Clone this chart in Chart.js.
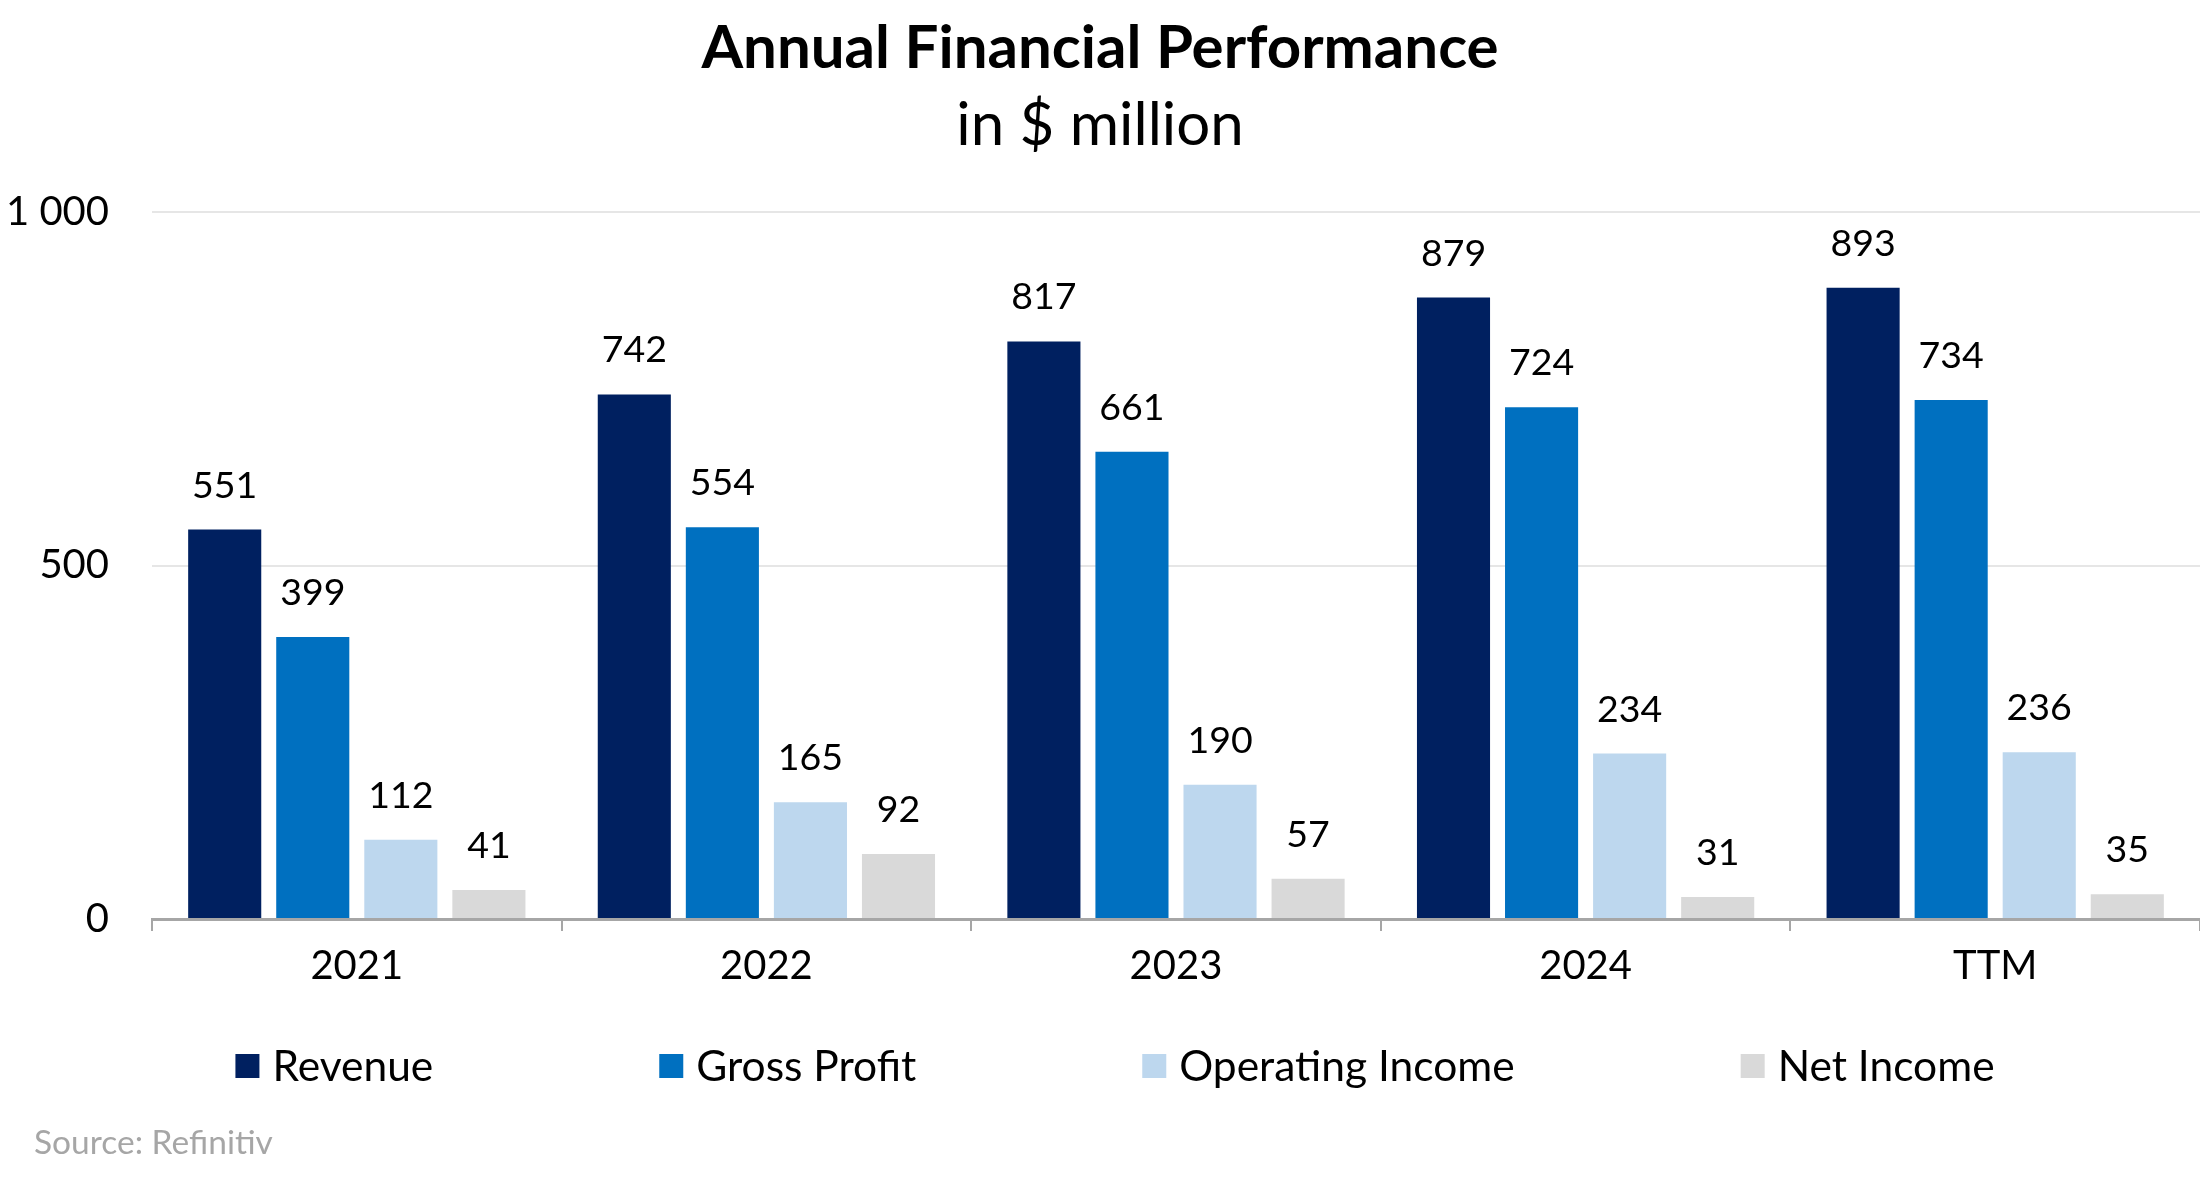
<!DOCTYPE html>
<html><head><meta charset="utf-8">
<script src="https://cdn.jsdelivr.net/npm/chart.js@4.4.1/dist/chart.umd.min.js"></script>
<style>html,body{margin:0;padding:0;background:#fff}#wrap{width:2200px;height:1188px}</style>
</head><body><div id="wrap"><canvas id="c" width="2200" height="1188"></canvas></div>
<script>
const categories = ['2021', '2022', '2023', '2024', 'TTM'];
const seriesNames = ['Revenue', 'Gross Profit', 'Operating Income', 'Net Income'];
const revenue = [551, 742, 817, 879, 893];
const grossProfit = [399, 554, 661, 724, 734];
const operatingIncome = [112, 165, 190, 234, 236];
const netIncome = [41, 92, 57, 31, 35];
const yTickValues = [0, 500, 1000];
const titleText = 'Annual Financial Performance';
const subtitleText = 'in $ million';
const sourceText = 'Source: Refinitiv';

const colors = ['#002060', '#0070C0', '#BDD7EE', '#D9D9D9'];
const FONT = 'Lato, "Open Sans", sans-serif';

function fmt(v) { return String(v).replace(/\B(?=(\d{3})+(?!\d))/g, ' '); }

const valueLabels = {
  id: 'valueLabels',
  afterDatasetsDraw(chart) {
    const ctx = chart.ctx;
    ctx.save();
    ctx.font = '37.5px ' + FONT;
    ctx.fillStyle = '#000';
    ctx.textAlign = 'center';
    ctx.textBaseline = 'middle';
    chart.data.datasets.forEach((ds, i) => {
      chart.getDatasetMeta(i).data.forEach((bar, j) => {
        ctx.fillText(fmt(ds.data[j]), bar.x, bar.y - 44);
      });
    });
    ctx.restore();
  }
};

const customLegend = {
  id: 'customLegend',
  afterDraw(chart) {
    const ctx = chart.ctx;
    ctx.save();
    ctx.font = '42.5px ' + FONT;
    const box = 24, gapText = 13, gapItem = 226, cy = 1066;
    const items = chart.data.datasets.map(ds => ({
      text: ds.label, color: ds.backgroundColor,
      w: box + gapText + ctx.measureText(ds.label).width
    }));
    const total = items.reduce((a, b) => a + b.w, 0) + gapItem * (items.length - 1);
    let x = chart.width / 2 + 15 - total / 2;
    ctx.textBaseline = 'middle';
    ctx.textAlign = 'left';
    items.forEach(it => {
      ctx.fillStyle = it.color;
      ctx.fillRect(x, cy - box / 2, box, box);
      ctx.fillStyle = '#000';
      ctx.fillText(it.text, x + box + gapText, cy + 1);
      x += it.w + gapItem;
    });
    ctx.fillStyle = '#a6a6a6';
    ctx.font = '33.5px ' + FONT;
    ctx.fillText(sourceText, 34, 1143);
    ctx.restore();
  }
};

function draw() {
  const seriesData = [revenue, grossProfit, operatingIncome, netIncome];
  new Chart(document.getElementById('c'), {
    type: 'bar',
    data: {
      labels: categories,
      datasets: seriesNames.map((name, i) => ({
        label: name,
        data: seriesData[i],
        backgroundColor: colors[i],
        borderWidth: 0,
        categoryPercentage: 0.86,
        barPercentage: 0.83
      }))
    },
    options: {
      responsive: false,
      devicePixelRatio: 1,
      animation: false,
      layout: { padding: 0 },
      plugins: {
        legend: { display: false },
        tooltip: { enabled: false },
        title: {
          display: true, text: titleText, color: '#000',
          font: { family: FONT, size: 60, weight: 'bold' },
          padding: { top: 13, bottom: 1 }
        },
        subtitle: {
          display: true, text: subtitleText, color: '#000',
          font: { family: FONT, size: 60, weight: 'normal' },
          padding: { top: 4, bottom: 50 }
        }
      },
      scales: {
        x: {
          grid: { offset: true, drawOnChartArea: false, drawTicks: true, tickLength: 12, color: '#a6a6a6', lineWidth: 2 },
          border: { display: true, color: '#a6a6a6', width: 3 },
          ticks: { color: '#000', font: { family: FONT, size: 40 }, padding: 11 },
          afterFit: s => { s.height = 269; }
        },
        y: {
          min: 0, max: 1000,
          afterBuildTicks: s => { s.ticks = yTickValues.map(v => ({ value: v })); },
          grid: { color: '#e6e6e6', lineWidth: 2, drawTicks: false },
          border: { display: false },
          ticks: { color: '#000', font: { family: FONT, size: 40 }, padding: 43, callback: v => fmt(v) },
          afterFit: s => { s.width = 152; }
        }
      }
    },
    plugins: [valueLabels, customLegend]
  });
}
if (document.fonts && document.fonts.load) {
  Promise.all([document.fonts.load('40px Lato'), document.fonts.load('bold 60px Lato')]).then(draw, draw);
} else { draw(); }
</script>
</body></html>
